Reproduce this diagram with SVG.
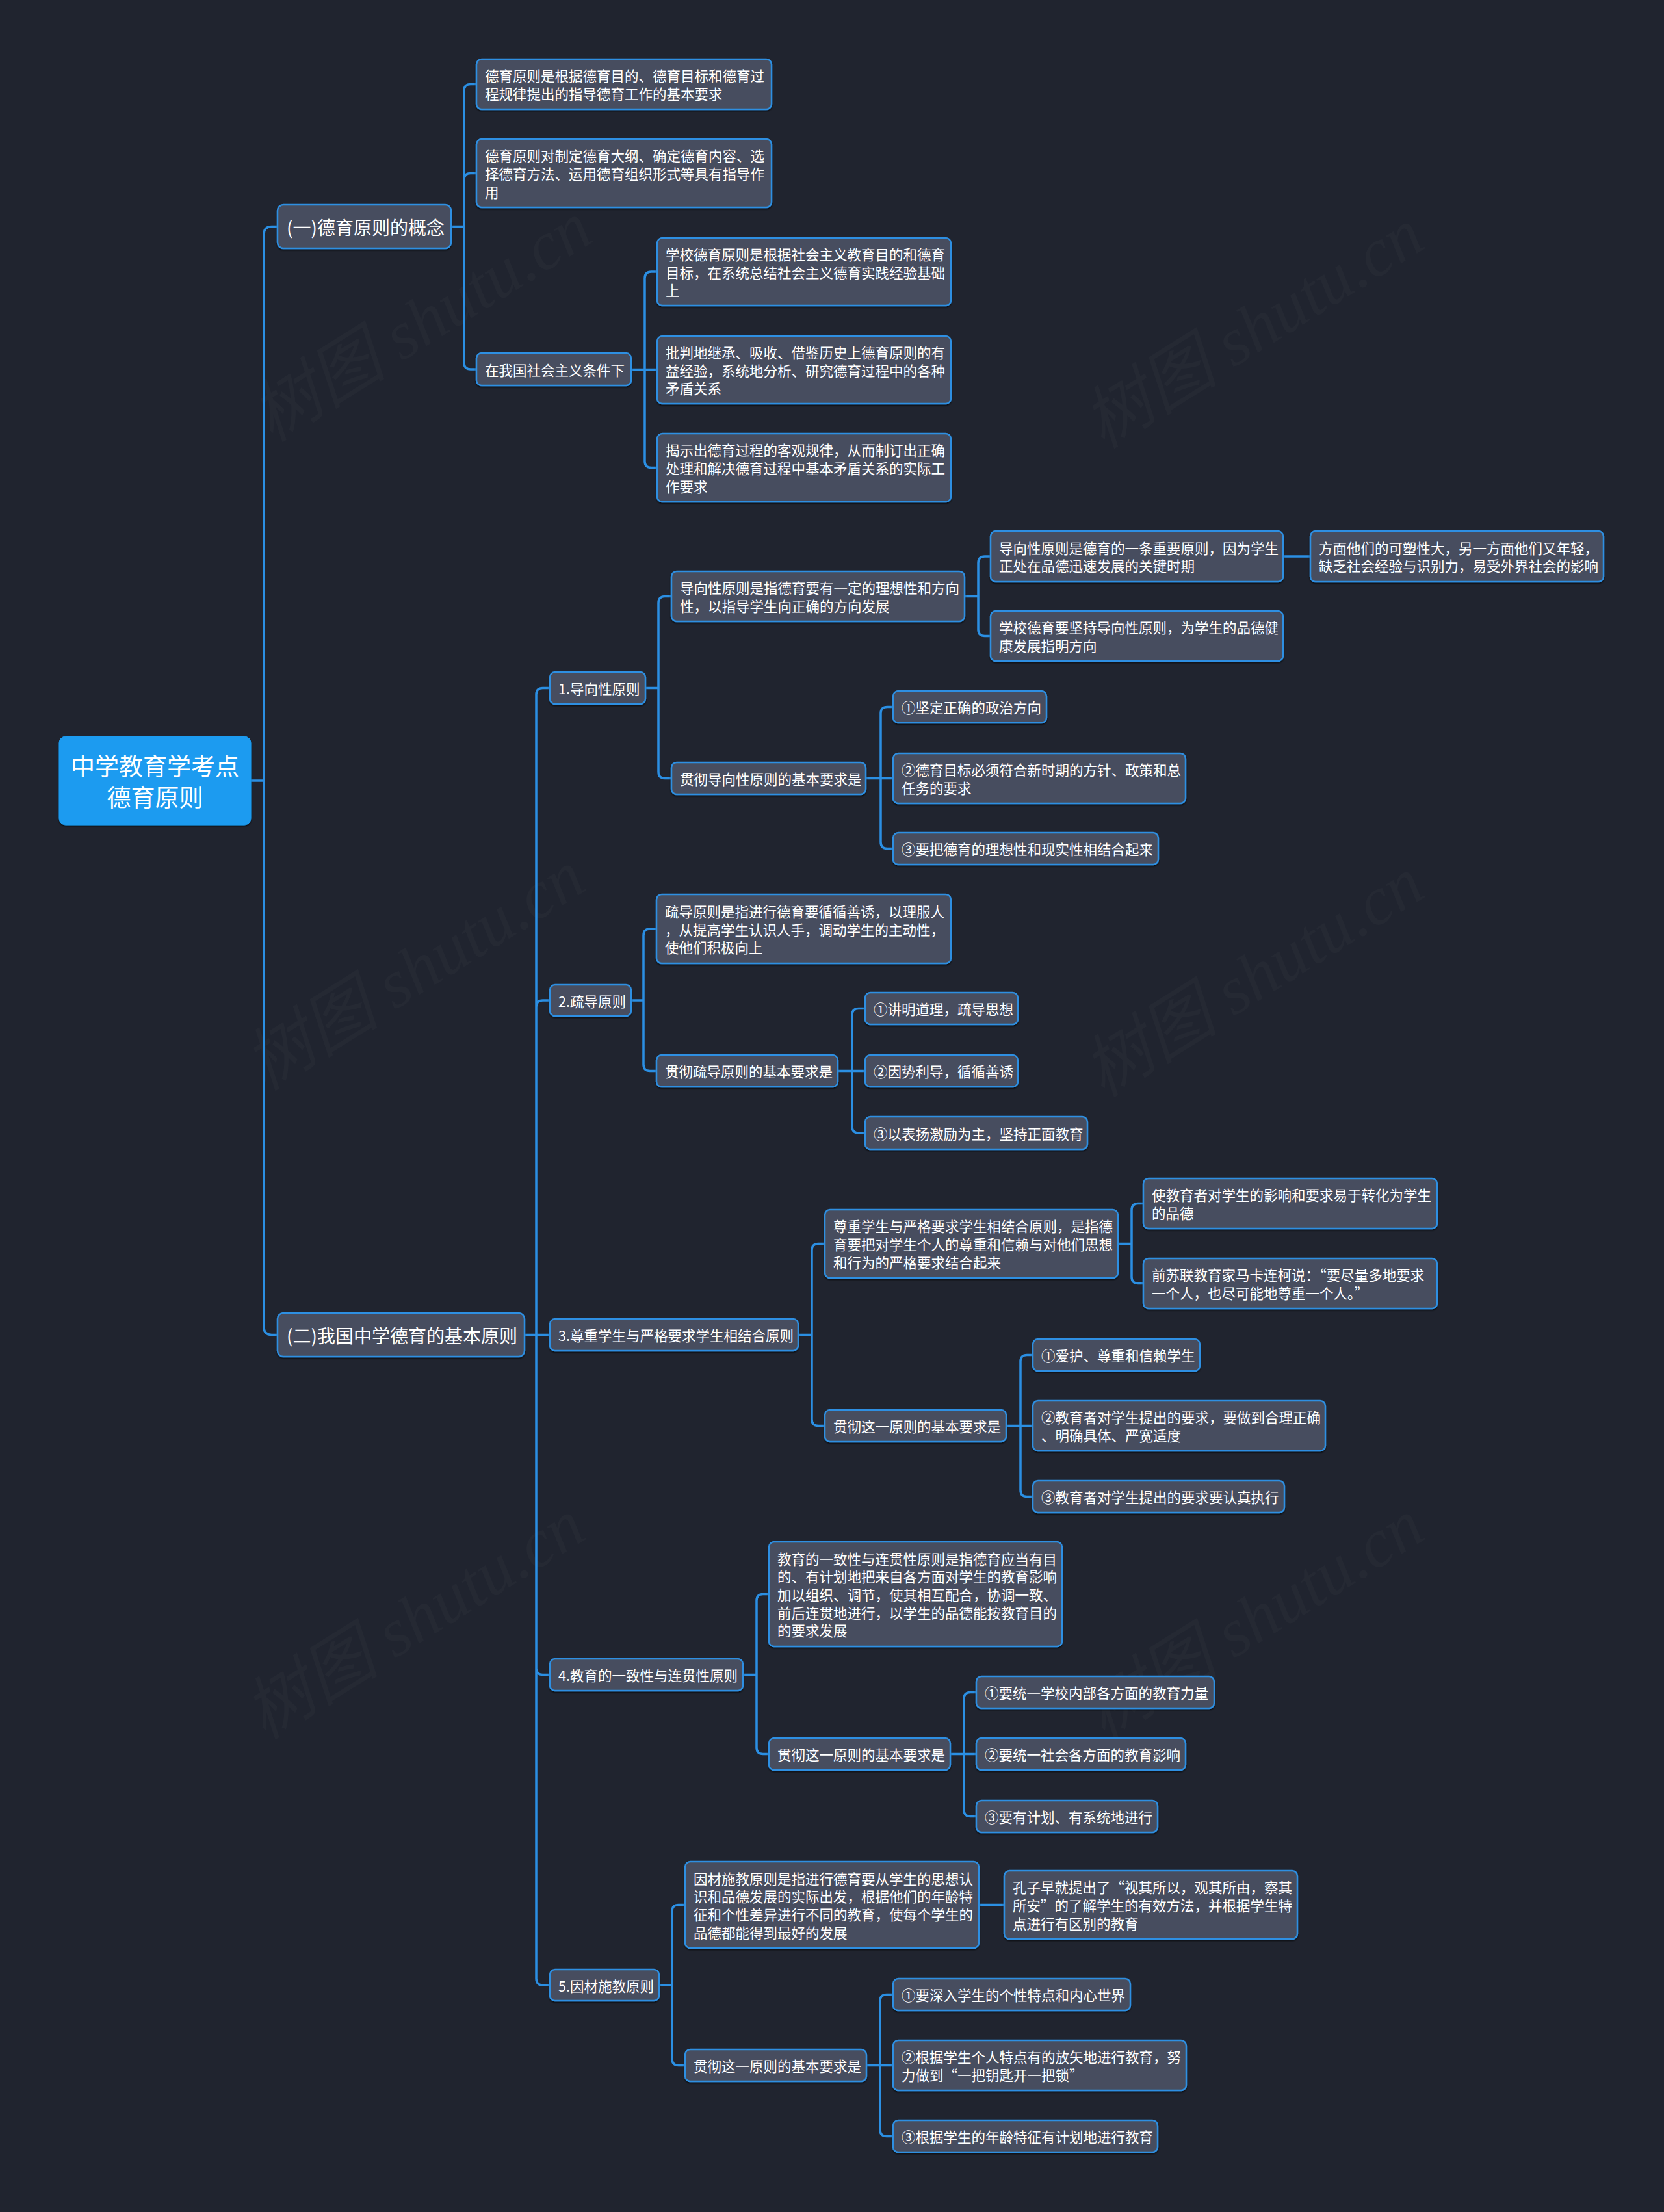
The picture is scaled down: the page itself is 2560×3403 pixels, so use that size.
<svg xmlns="http://www.w3.org/2000/svg" width="2560" height="3403" viewBox="0 0 2560 3403">
<defs>
<style>
.t{font-family:"Noto Sans CJK SC","Noto Sans",sans-serif;font-size:21.5px;fill:#ffffff;dominant-baseline:central}
.t1{font-family:"Noto Sans CJK SC","Noto Sans",sans-serif;font-size:28px;fill:#ffffff;dominant-baseline:central}
.tr{font-family:"Noto Sans CJK SC","Noto Sans",sans-serif;font-size:37px;fill:#ffffff;dominant-baseline:central;text-anchor:middle}
.n{fill:#464e5e;stroke:#2d8fe2;stroke-width:2.5;filter:url(#sh)}
.r{fill:#1b9bf0;stroke:#1b9bf0;stroke-width:1;filter:url(#sh)}
.c path{fill:none;stroke:#2b8fe3;stroke-width:3.5;stroke-linecap:round;stroke-linejoin:round}
.wm{font-family:"Liberation Serif","Noto Sans CJK SC",serif;font-style:italic;font-size:105px;fill:#ffffff;fill-opacity:0.025;text-anchor:middle}
</style>
<filter id="sh" x="-5%" y="-10%" width="110%" height="130%">
<feDropShadow dx="0" dy="2" stdDeviation="1.2" flood-color="#000000" flood-opacity="0.6"/>
</filter>
</defs>
<rect x="0" y="0" width="2560" height="3403" fill="#20242f"/>
<g id="watermark">
<text class="wm" x="651" y="530" transform="rotate(-32 651 499)">树图 shutu.cn</text>
<text class="wm" x="1931" y="540" transform="rotate(-32 1931 510)">树图 shutu.cn</text>
<text class="wm" x="640" y="1528" transform="rotate(-32 640 1497)">树图 shutu.cn</text>
<text class="wm" x="1931" y="1538" transform="rotate(-32 1931 1508)">树图 shutu.cn</text>
<text class="wm" x="640" y="2526" transform="rotate(-32 640 2495)">树图 shutu.cn</text>
<text class="wm" x="1931" y="2526" transform="rotate(-32 1931 2495)">树图 shutu.cn</text>
</g>
<g id="connectors" class="c">
<path d="M386,1201 H406 M406,1201 V360.5 Q406,348.5 418,348.5 H427 M406,1201 V2041.5 Q406,2053.5 418,2053.5 H427"/>
<path d="M694,348.5 H714 M714,348.5 V139.5 Q714,129.5 724,129.5 H733 M714,348.5 V276.5 Q714,266.5 724,266.5 H733 M714,348.5 V558 Q714,568 724,568 H733"/>
<path d="M971,568.5 H1011 M992,568.5 V428 Q992,418 1002,418 H1011 M992,568.5 V709.5 Q992,719.5 1002,719.5 H1011"/>
<path d="M807,2053.5 H846 M825,2053.5 V1068.5 Q825,1058.5 835,1058.5 H846 M825,2053.5 V1549 Q825,1539 835,1539 H846 M825,2053.5 V2566.5 Q825,2576.5 835,2576.5 H846 M825,2053.5 V3044 Q825,3054 835,3054 H846"/>
<path d="M993,1058.5 H1013 M1013,1058.5 V927.5 Q1013,917.5 1023,917.5 H1033 M1013,1058.5 V1187.5 Q1013,1197.5 1023,1197.5 H1033"/>
<path d="M1484,917.5 H1505 M1505,917.5 V866 Q1505,856 1515,856 H1524 M1505,917.5 V968.5 Q1505,978.5 1515,978.5 H1524"/>
<path d="M1974,856 H2016"/>
<path d="M1332,1197.5 H1374 M1355,1197.5 V1097.5 Q1355,1087.5 1365,1087.5 H1374 M1355,1197.5 V1295.5 Q1355,1305.5 1365,1305.5 H1374"/>
<path d="M971,1539 H990 M990,1539 V1439 Q990,1429 1000,1429 H1010 M990,1539 V1637.5 Q990,1647.5 1000,1647.5 H1010"/>
<path d="M1289,1647.5 H1331 M1311,1647.5 V1561.5 Q1311,1551.5 1321,1551.5 H1331 M1311,1647.5 V1733 Q1311,1743 1321,1743 H1331"/>
<path d="M1228,2053.5 H1249 M1249,2053.5 V1923.5 Q1249,1913.5 1259,1913.5 H1269 M1249,2053.5 V2183.5 Q1249,2193.5 1259,2193.5 H1269"/>
<path d="M1720,1913.5 H1741 M1741,1913.5 V1861.5 Q1741,1851.5 1751,1851.5 H1759 M1741,1913.5 V1964.5 Q1741,1974.5 1751,1974.5 H1759"/>
<path d="M1548,2193.5 H1589 M1570,2193.5 V2094.5 Q1570,2084.5 1580,2084.5 H1589 M1570,2193.5 V2292.5 Q1570,2302.5 1580,2302.5 H1589"/>
<path d="M1143,2576.5 H1164 M1164,2576.5 V2462.5 Q1164,2452.5 1174,2452.5 H1183 M1164,2576.5 V2688.5 Q1164,2698.5 1174,2698.5 H1183"/>
<path d="M1462,2698.5 H1502 M1483,2698.5 V2613.5 Q1483,2603.5 1493,2603.5 H1502 M1483,2698.5 V2784.5 Q1483,2794.5 1493,2794.5 H1502"/>
<path d="M1014,3054 H1034 M1034,3054 V2940.5 Q1034,2930.5 1044,2930.5 H1054 M1034,3054 V3167.5 Q1034,3177.5 1044,3177.5 H1054"/>
<path d="M1506,2930.5 H1545"/>
<path d="M1333,3177.5 H1374 M1354,3177.5 V3078.5 Q1354,3068.5 1364,3068.5 H1374 M1354,3177.5 V3276.5 Q1354,3286.5 1364,3286.5 H1374"/>
</g>
<g id="root"><rect class="r" x="91" y="1133" width="295" height="136" rx="10"/><text class="tr" x="238.5" y="1177">中学教育学考点</text><text class="tr" x="238.5" y="1225">德育原则</text></g>
<g id="n-A"><rect class="n" x="427" y="315" width="267" height="67" rx="9"/><text class="t1" x="441" y="348.5">(一)德育原则的概念</text></g>
<g id="n-A1"><rect class="n" x="733" y="91" width="454" height="77" rx="8"/><text class="t" x="746" y="115.7">德育原则是根据德育目的、德育目标和德育过</text><text class="t" x="746" y="143.4">程规律提出的指导德育工作的基本要求</text></g>
<g id="n-A2"><rect class="n" x="733" y="214" width="454" height="105" rx="8"/><text class="t" x="746" y="238.8">德育原则对制定德育大纲、确定德育内容、选</text><text class="t" x="746" y="266.5">择德育方法、运用德育组织形式等具有指导作</text><text class="t" x="746" y="294.2">用</text></g>
<g id="n-A3"><rect class="n" x="733" y="543" width="238" height="50" rx="8"/><text class="t" x="746" y="568">在我国社会主义条件下</text></g>
<g id="n-A3a"><rect class="n" x="1011" y="366" width="452" height="104" rx="8"/><text class="t" x="1024" y="390.3">学校德育原则是根据社会主义教育目的和德育</text><text class="t" x="1024" y="418">目标，在系统总结社会主义德育实践经验基础</text><text class="t" x="1024" y="445.7">上</text></g>
<g id="n-A3b"><rect class="n" x="1011" y="517" width="452" height="104" rx="8"/><text class="t" x="1024" y="541.3">批判地继承、吸收、借鉴历史上德育原则的有</text><text class="t" x="1024" y="569">益经验，系统地分析、研究德育过程中的各种</text><text class="t" x="1024" y="596.7">矛盾关系</text></g>
<g id="n-A3c"><rect class="n" x="1011" y="667" width="452" height="105" rx="8"/><text class="t" x="1024" y="691.8">揭示出德育过程的客观规律，从而制订出正确</text><text class="t" x="1024" y="719.5">处理和解决德育过程中基本矛盾关系的实际工</text><text class="t" x="1024" y="747.2">作要求</text></g>
<g id="n-B"><rect class="n" x="427" y="2020" width="380" height="67" rx="9"/><text class="t1" x="441" y="2053.5">(二)我国中学德育的基本原则</text></g>
<g id="n-B1"><rect class="n" x="846" y="1034" width="147" height="49" rx="8"/><text class="t" x="859" y="1058.5">1.导向性原则</text></g>
<g id="n-B1a"><rect class="n" x="1033" y="879" width="451" height="77" rx="8"/><text class="t" x="1046" y="903.7">导向性原则是指德育要有一定的理想性和方向</text><text class="t" x="1046" y="931.4">性，以指导学生向正确的方向发展</text></g>
<g id="n-B1a1"><rect class="n" x="1524" y="817" width="450" height="78" rx="8"/><text class="t" x="1537" y="842.2">导向性原则是德育的一条重要原则，因为学生</text><text class="t" x="1537" y="869.9">正处在品德迅速发展的关键时期</text></g>
<g id="n-B1a1x"><rect class="n" x="2016" y="817" width="451" height="78" rx="8"/><text class="t" x="2029" y="842.2">方面他们的可塑性大，另一方面他们又年轻，</text><text class="t" x="2029" y="869.9">缺乏社会经验与识别力，易受外界社会的影响</text></g>
<g id="n-B1a2"><rect class="n" x="1524" y="940" width="450" height="77" rx="8"/><text class="t" x="1537" y="964.7">学校德育要坚持导向性原则，为学生的品德健</text><text class="t" x="1537" y="992.4">康发展指明方向</text></g>
<g id="n-B1b"><rect class="n" x="1033" y="1173" width="299" height="49" rx="8"/><text class="t" x="1046" y="1197.5">贯彻导向性原则的基本要求是</text></g>
<g id="n-B1b1"><rect class="n" x="1374" y="1063" width="236" height="49" rx="8"/><text class="t" x="1387" y="1087.5">①坚定正确的政治方向</text></g>
<g id="n-B1b2"><rect class="n" x="1374" y="1159" width="450" height="77" rx="8"/><text class="t" x="1387" y="1183.7">②德育目标必须符合新时期的方针、政策和总</text><text class="t" x="1387" y="1211.4">任务的要求</text></g>
<g id="n-B1b3"><rect class="n" x="1374" y="1281" width="408" height="49" rx="8"/><text class="t" x="1387" y="1305.5">③要把德育的理想性和现实性相结合起来</text></g>
<g id="n-B2"><rect class="n" x="846" y="1515" width="125" height="48" rx="8"/><text class="t" x="859" y="1539">2.疏导原则</text></g>
<g id="n-B2a"><rect class="n" x="1010" y="1376" width="453" height="106" rx="8"/><text class="t" x="1023" y="1401.3">疏导原则是指进行德育要循循善诱，以理服人</text><text class="t" x="1023" y="1429">，从提高学生认识人手，调动学生的主动性，</text><text class="t" x="1023" y="1456.7">使他们积极向上</text></g>
<g id="n-B2b"><rect class="n" x="1010" y="1623" width="279" height="49" rx="8"/><text class="t" x="1023" y="1647.5">贯彻疏导原则的基本要求是</text></g>
<g id="n-B2b1"><rect class="n" x="1331" y="1527" width="235" height="49" rx="8"/><text class="t" x="1344" y="1551.5">①讲明道理，疏导思想</text></g>
<g id="n-B2b2"><rect class="n" x="1331" y="1623" width="235" height="49" rx="8"/><text class="t" x="1344" y="1647.5">②因势利导，循循善诱</text></g>
<g id="n-B2b3"><rect class="n" x="1331" y="1718" width="342" height="50" rx="8"/><text class="t" x="1344" y="1743">③以表扬激励为主，坚持正面教育</text></g>
<g id="n-B3"><rect class="n" x="846" y="2029" width="382" height="49" rx="8"/><text class="t" x="859" y="2053.5">3.尊重学生与严格要求学生相结合原则</text></g>
<g id="n-B3a"><rect class="n" x="1269" y="1861" width="451" height="105" rx="8"/><text class="t" x="1282" y="1885.8">尊重学生与严格要求学生相结合原则，是指德</text><text class="t" x="1282" y="1913.5">育要把对学生个人的尊重和信赖与对他们思想</text><text class="t" x="1282" y="1941.2">和行为的严格要求结合起来</text></g>
<g id="n-B3a1"><rect class="n" x="1759" y="1813" width="452" height="77" rx="8"/><text class="t" x="1772" y="1837.7">使教育者对学生的影响和要求易于转化为学生</text><text class="t" x="1772" y="1865.4">的品德</text></g>
<g id="n-B3a2"><rect class="n" x="1759" y="1936" width="452" height="77" rx="8"/><text class="t" x="1772" y="1960.7">前苏联教育家马卡连柯说：“要尽量多地要求</text><text class="t" x="1772" y="1988.4">一个人，也尽可能地尊重一个人。”</text></g>
<g id="n-B3b"><rect class="n" x="1269" y="2169" width="279" height="49" rx="8"/><text class="t" x="1282" y="2193.5">贯彻这一原则的基本要求是</text></g>
<g id="n-B3b1"><rect class="n" x="1589" y="2060" width="257" height="49" rx="8"/><text class="t" x="1602" y="2084.5">①爱护、尊重和信赖学生</text></g>
<g id="n-B3b2"><rect class="n" x="1589" y="2155" width="450" height="77" rx="8"/><text class="t" x="1602" y="2179.7">②教育者对学生提出的要求，要做到合理正确</text><text class="t" x="1602" y="2207.4">、明确具体、严宽适度</text></g>
<g id="n-B3b3"><rect class="n" x="1589" y="2278" width="387" height="49" rx="8"/><text class="t" x="1602" y="2302.5">③教育者对学生提出的要求要认真执行</text></g>
<g id="n-B4"><rect class="n" x="846" y="2552" width="297" height="49" rx="8"/><text class="t" x="859" y="2576.5">4.教育的一致性与连贯性原则</text></g>
<g id="n-B4a"><rect class="n" x="1183" y="2372" width="451" height="161" rx="8"/><text class="t" x="1196" y="2397.1">教育的一致性与连贯性原则是指德育应当有目</text><text class="t" x="1196" y="2424.8">的、有计划地把来自各方面对学生的教育影响</text><text class="t" x="1196" y="2452.5">加以组织、调节，使其相互配合，协调一致、</text><text class="t" x="1196" y="2480.2">前后连贯地进行，以学生的品德能按教育目的</text><text class="t" x="1196" y="2507.9">的要求发展</text></g>
<g id="n-B4b"><rect class="n" x="1183" y="2674" width="279" height="49" rx="8"/><text class="t" x="1196" y="2698.5">贯彻这一原则的基本要求是</text></g>
<g id="n-B4b1"><rect class="n" x="1502" y="2579" width="366" height="49" rx="8"/><text class="t" x="1515" y="2603.5">①要统一学校内部各方面的教育力量</text></g>
<g id="n-B4b2"><rect class="n" x="1502" y="2674" width="322" height="49" rx="8"/><text class="t" x="1515" y="2698.5">②要统一社会各方面的教育影响</text></g>
<g id="n-B4b3"><rect class="n" x="1502" y="2770" width="279" height="49" rx="8"/><text class="t" x="1515" y="2794.5">③要有计划、有系统地进行</text></g>
<g id="n-B5"><rect class="n" x="846" y="3030" width="168" height="48" rx="8"/><text class="t" x="859" y="3054">5.因材施教原则</text></g>
<g id="n-B5a"><rect class="n" x="1054" y="2864" width="452" height="133" rx="8"/><text class="t" x="1067" y="2889">因材施教原则是指进行德育要从学生的思想认</text><text class="t" x="1067" y="2916.7">识和品德发展的实际出发，根据他们的年龄特</text><text class="t" x="1067" y="2944.4">征和个性差异进行不同的教育，使每个学生的</text><text class="t" x="1067" y="2972.1">品德都能得到最好的发展</text></g>
<g id="n-B5a1"><rect class="n" x="1545" y="2878" width="451" height="105" rx="8"/><text class="t" x="1558" y="2902.8">孔子早就提出了“视其所以，观其所由，察其</text><text class="t" x="1558" y="2930.5">所安”的了解学生的有效方法，并根据学生特</text><text class="t" x="1558" y="2958.2">点进行有区别的教育</text></g>
<g id="n-B5b"><rect class="n" x="1054" y="3153" width="279" height="49" rx="8"/><text class="t" x="1067" y="3177.5">贯彻这一原则的基本要求是</text></g>
<g id="n-B5b1"><rect class="n" x="1374" y="3044" width="365" height="49" rx="8"/><text class="t" x="1387" y="3068.5">①要深入学生的个性特点和内心世界</text></g>
<g id="n-B5b2"><rect class="n" x="1374" y="3139" width="451" height="77" rx="8"/><text class="t" x="1387" y="3163.7">②根据学生个人特点有的放矢地进行教育，努</text><text class="t" x="1387" y="3191.4">力做到“一把钥匙开一把锁”</text></g>
<g id="n-B5b3"><rect class="n" x="1374" y="3262" width="407" height="49" rx="8"/><text class="t" x="1387" y="3286.5">③根据学生的年龄特征有计划地进行教育</text></g>
</svg>
